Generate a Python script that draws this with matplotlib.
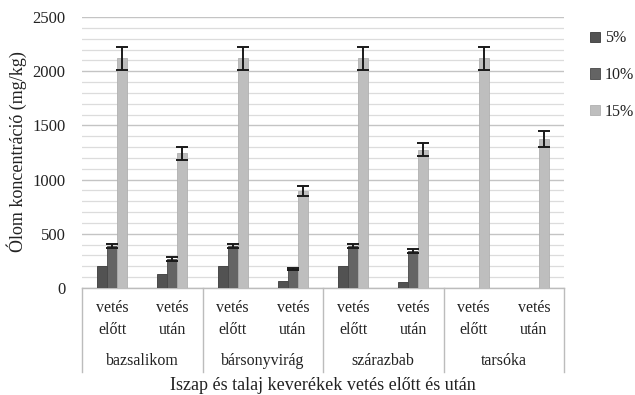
import numpy as np
import matplotlib
matplotlib.use("Agg")
import matplotlib.pyplot as plt
from matplotlib.transforms import blended_transform_factory
from matplotlib.ticker import MultipleLocator

plt.rcParams['font.family'] = ['Liberation Serif', 'DejaVu Serif']

# Plants (groups) and sampling time (sub-categories)
plants = ["bazsalikom", "bársonyvirág", "szárazbab", "tarsóka"]
timing = ["vetés\nelőtt", "vetés\nután"]
series = ["5%", "10%", "15%"]

# Lead concentration (mg/kg), one value per plant/timing pair
pb_5 = [200, 130, 200, 65, 200, 55, 0, 0]
pb_10 = [390, 265, 390, 175, 390, 345, 0, 0]
pb_15 = [2120, 1245, 2120, 895, 2120, 1275, 2120, 1375]

# Standard deviations
sd_10 = [20, 20, 20, 5, 20, 18, 0, 0]
sd_15 = [105, 60, 105, 45, 105, 60, 105, 72]

colors = ["#525252", "#646464", "#bebebe"]
edges = ["#3a3a3a", "#474747", "#b0b0b0"]

W, H = 635, 395
fig = plt.figure(figsize=(W / 100, H / 100), dpi=100)
x0, x1, ytop, ybot = 82, 564, 17, 288
ax = fig.add_axes([x0 / W, 1 - ybot / H, (x1 - x0) / W, (ybot - ytop) / H])

n = len(pb_15)
x = np.arange(n)
bw = 1 / 6
values = [pb_5, pb_10, pb_15]
errs = [None, sd_10, sd_15]
for i, (vals, err) in enumerate(zip(values, errs)):
    pos = x + (i - 1) * bw
    ax.bar(pos, vals, width=bw, color=colors[i], edgecolor=edges[i],
           linewidth=0.6, label=series[i], zorder=3)
    if err is not None:
        mask = np.array(vals) > 0
        ax.errorbar(pos[mask], np.array(vals)[mask], yerr=np.array(err)[mask],
                    fmt="none", ecolor="#1a1a1a", elinewidth=1.4,
                    capsize=4, capthick=1.4, zorder=4)

ax.set_xlim(-0.5, n - 0.5)
ax.set_ylim(0, 2500)
ax.yaxis.set_major_locator(MultipleLocator(500))
ax.yaxis.set_minor_locator(MultipleLocator(100))
ax.grid(axis="y", which="major", color="#c4c4c4", linewidth=1.0, zorder=0)
ax.grid(axis="y", which="minor", color="#dcdcdc", linewidth=0.9, zorder=0)
ax.set_axisbelow(True)
for s in ["left", "right", "top"]:
    ax.spines[s].set_visible(False)
ax.spines["bottom"].set_color("#bcbcbc")
ax.spines["bottom"].set_linewidth(1.0)
ax.tick_params(axis="y", which="both", length=0, labelsize=12, pad=12,
               labelcolor="#222222")
ax.tick_params(axis="x", length=0, labelbottom=False)

# Two-level category axis below the plot
tr = blended_transform_factory(ax.transData, fig.transFigure)
fy = lambda py: 1 - py / H
for k in range(n):
    ax.text(k, fy(319), timing[k % 2], transform=tr, ha="center", va="center",
            fontsize=11.5, color="#222222", linespacing=1.45)
for g, name in enumerate(plants):
    ax.text(2 * g + 0.5, fy(361), name, transform=tr, ha="center",
            va="center", fontsize=11.5, color="#222222")
for b in np.arange(-0.5, n, 2):
    ax.plot([b, b], [fy(288), fy(372)], transform=tr, color="#bcbcbc",
            linewidth=1.0, clip_on=False)

fig.text(323 / W, fy(385), "Iszap és talaj keverékek vetés előtt és után",
         ha="center", va="center", fontsize=13, color="#222222")
fig.text(17 / W, fy(152), "Ólom koncentráció (mg/kg)", rotation=90,
         ha="center", va="center", fontsize=13, color="#222222")

leg = fig.legend(loc="upper left", bbox_to_anchor=(584 / W, fy(24)),
                 frameon=False, fontsize=11.5, handlelength=0.6,
                 handleheight=0.6, handletextpad=0.3, labelspacing=1.3,
                 borderaxespad=0)
for t in leg.get_texts():
    t.set_color("#222222")

fig.savefig("out.png", dpi=100)
